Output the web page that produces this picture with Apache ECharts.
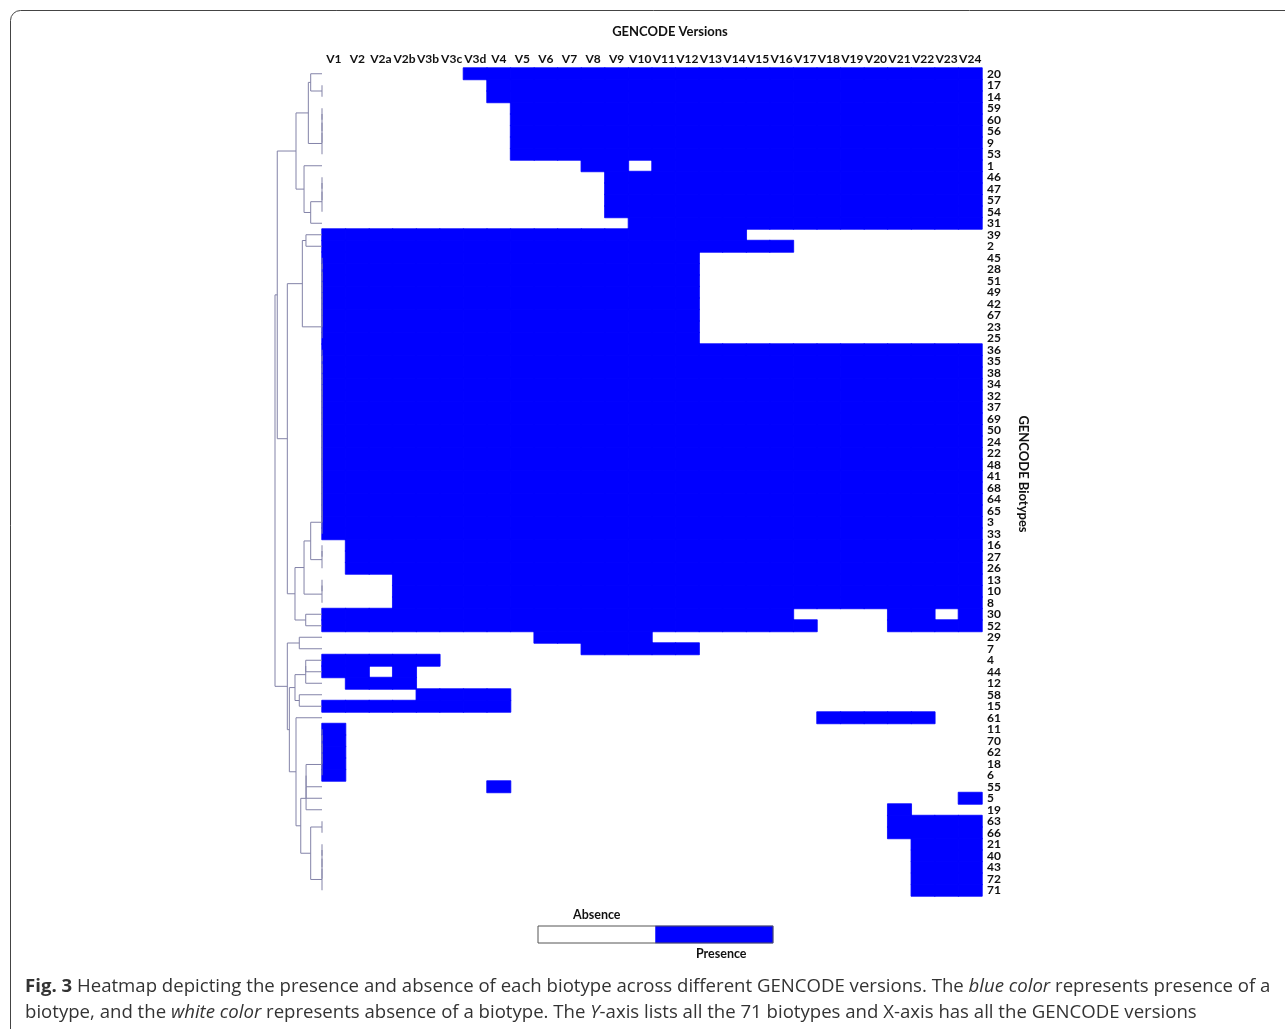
<!DOCTYPE html>
<html>
<head>
<meta charset="utf-8">
<title>GENCODE biotypes heatmap</title>
<script src="https://cdn.jsdelivr.net/npm/echarts@6/dist/echarts.min.js"></script>
<style>
  html, body { margin: 0; padding: 0; background: #fff; }
  #chart { width: 1285px; height: 1029px; }
</style>
</head>
<body>
<div id="chart"></div>
<script>
// columns (GENCODE versions)
const versions = ['V1', 'V2', 'V2a', 'V2b', 'V3b', 'V3c', 'V3d', 'V4', 'V5', 'V6', 'V7', 'V8', 'V9', 'V10',
  'V11', 'V12', 'V13', 'V14', 'V15', 'V16', 'V17', 'V18', 'V19', 'V20', 'V21', 'V22', 'V23', 'V24'];

// rows (biotype ids), top to bottom in dendrogram order
const biotypes = ['20', '17', '14', '59', '60', '56', '9', '53', '1', '46', '47', '57', '54', '31', '39', '2',
  '45', '28', '51', '49', '42', '67', '23', '25', '36', '35', '38', '34', '32', '37', '69', '50', '24', '22',
  '48', '41', '68', '64', '65', '3', '33', '16', '27', '26', '13', '10', '8', '30', '52', '29', '7', '4', '44',
  '12', '58', '15', '61', '11', '70', '62', '18', '6', '55', '5', '19', '63', '66', '21', '40', '43', '72', '71'];

// 1 = presence, 0 = absence, one string per row, one char per version (grouped by 4)
const presence = [
  '0000 0011 1111 1111 1111 1111 1111', // 20
  '0000 0001 1111 1111 1111 1111 1111', // 17
  '0000 0001 1111 1111 1111 1111 1111', // 14
  '0000 0000 1111 1111 1111 1111 1111', // 59
  '0000 0000 1111 1111 1111 1111 1111', // 60
  '0000 0000 1111 1111 1111 1111 1111', // 56
  '0000 0000 1111 1111 1111 1111 1111', // 9
  '0000 0000 1111 1111 1111 1111 1111', // 53
  '0000 0000 0001 1011 1111 1111 1111', // 1
  '0000 0000 0000 1111 1111 1111 1111', // 46
  '0000 0000 0000 1111 1111 1111 1111', // 47
  '0000 0000 0000 1111 1111 1111 1111', // 57
  '0000 0000 0000 1111 1111 1111 1111', // 54
  '0000 0000 0000 0111 1111 1111 1111', // 31
  '1111 1111 1111 1111 1100 0000 0000', // 39
  '1111 1111 1111 1111 1111 0000 0000', // 2
  '1111 1111 1111 1111 0000 0000 0000', // 45
  '1111 1111 1111 1111 0000 0000 0000', // 28
  '1111 1111 1111 1111 0000 0000 0000', // 51
  '1111 1111 1111 1111 0000 0000 0000', // 49
  '1111 1111 1111 1111 0000 0000 0000', // 42
  '1111 1111 1111 1111 0000 0000 0000', // 67
  '1111 1111 1111 1111 0000 0000 0000', // 23
  '1111 1111 1111 1111 0000 0000 0000', // 25
  '1111 1111 1111 1111 1111 1111 1111', // 36
  '1111 1111 1111 1111 1111 1111 1111', // 35
  '1111 1111 1111 1111 1111 1111 1111', // 38
  '1111 1111 1111 1111 1111 1111 1111', // 34
  '1111 1111 1111 1111 1111 1111 1111', // 32
  '1111 1111 1111 1111 1111 1111 1111', // 37
  '1111 1111 1111 1111 1111 1111 1111', // 69
  '1111 1111 1111 1111 1111 1111 1111', // 50
  '1111 1111 1111 1111 1111 1111 1111', // 24
  '1111 1111 1111 1111 1111 1111 1111', // 22
  '1111 1111 1111 1111 1111 1111 1111', // 48
  '1111 1111 1111 1111 1111 1111 1111', // 41
  '1111 1111 1111 1111 1111 1111 1111', // 68
  '1111 1111 1111 1111 1111 1111 1111', // 64
  '1111 1111 1111 1111 1111 1111 1111', // 65
  '1111 1111 1111 1111 1111 1111 1111', // 3
  '1111 1111 1111 1111 1111 1111 1111', // 33
  '0111 1111 1111 1111 1111 1111 1111', // 16
  '0111 1111 1111 1111 1111 1111 1111', // 27
  '0111 1111 1111 1111 1111 1111 1111', // 26
  '0001 1111 1111 1111 1111 1111 1111', // 13
  '0001 1111 1111 1111 1111 1111 1111', // 10
  '0001 1111 1111 1111 1111 1111 1111', // 8
  '1111 1111 1111 1111 1111 0000 1101', // 30
  '1111 1111 1111 1111 1111 1000 1111', // 52
  '0000 0000 0111 1100 0000 0000 0000', // 29
  '0000 0000 0001 1111 0000 0000 0000', // 7
  '1111 1000 0000 0000 0000 0000 0000', // 4
  '1101 0000 0000 0000 0000 0000 0000', // 44
  '0111 0000 0000 0000 0000 0000 0000', // 12
  '0000 1111 0000 0000 0000 0000 0000', // 58
  '1111 1111 0000 0000 0000 0000 0000', // 15
  '0000 0000 0000 0000 0000 0111 1100', // 61
  '1000 0000 0000 0000 0000 0000 0000', // 11
  '1000 0000 0000 0000 0000 0000 0000', // 70
  '1000 0000 0000 0000 0000 0000 0000', // 62
  '1000 0000 0000 0000 0000 0000 0000', // 18
  '1000 0000 0000 0000 0000 0000 0000', // 6
  '0000 0001 0000 0000 0000 0000 0000', // 55
  '0000 0000 0000 0000 0000 0000 0001', // 5
  '0000 0000 0000 0000 0000 0000 1000', // 19
  '0000 0000 0000 0000 0000 0000 1111', // 63
  '0000 0000 0000 0000 0000 0000 1111', // 66
  '0000 0000 0000 0000 0000 0000 0111', // 21
  '0000 0000 0000 0000 0000 0000 0111', // 40
  '0000 0000 0000 0000 0000 0000 0111', // 43
  '0000 0000 0000 0000 0000 0000 0111', // 72
  '0000 0000 0000 0000 0000 0000 0111'  // 71
];

// row clustering: [height, left, right], leaves are row indices.
// identical rows are joined one after another at height 0
const tie = (...rows) => rows.slice(1).reduce((acc, r) => [0, acc, r], rows[0]);
const dendrogram = [4.16,
  [3.96,
    [2.30,
      [1.21, [1.00, 0, tie(1, 2)], tie(3, 4, 5, 6, 7)],
      [1.59, 8, [1.00, tie(9, 10, 11, 12), 13]]
    ],
    [3.07,
      [1.74, [1.42, 14, 15], tie(16, 17, 18, 19, 20, 21, 22, 23)],
      [2.39,
        [1.59,
          [1.00, tie(24, 25, 26, 27, 28, 29, 30, 31, 32, 33, 34, 35, 36, 37, 38, 39, 40), tie(41, 42, 43)],
          tie(44, 45, 46)],
        [1.44, 47, 48]
      ]
    ]
  ],
  [3.07,
    [2.01, 49, 50],
    [2.89,
      [2.39, [1.44, [1.44, 51, 52], 53], [2.01, 54, 55]],
      [2.30, 56,
        [1.88,
          [1.41, [1.41, [1.41, tie(57, 58, 59, 60, 61), 62], 63], 64],
          [1.00, tie(65, 66), tie(67, 68, 69, 70, 71)]
        ]
      ]
    ]
  ]
];

const keyLabels = ['Absence', 'Presence'];
const keyValues = [0, 1];

const BLUE = '#0000ff';
const LABEL_FONT = 'Lato';

// heatmap cells: only the present ones are painted
const cells = [];
presence.forEach((row, r) => {
  row.replace(/\s/g, '').split('').forEach((c, v) => {
    if (c === '1') cells.push([v, r, 1]);
  });
});

// dendrogram links [childLeftH, yLeft, h, yRight, childRightH]
const links = [];
function layout(node) {
  if (typeof node === 'number') return { h: 0, y: node };
  const [h, a, b] = node;
  const l = layout(a);
  const r = layout(b);
  links.push([l.h, l.y, h, r.y, r.h]);
  return { h: h, y: (l.y + r.y) / 2 };
}
layout(dendrogram);

const chart = echarts.init(document.getElementById('chart'));

const option = {
  animation: false,
  backgroundColor: '#fff',
  textStyle: { fontFamily: LABEL_FONT },
  grid: [
    { left: 322, top: 68, width: 660, height: 828 },
    { left: 275, top: 68, width: 47, height: 828 },
    { left: 538, top: 926, width: 235, height: 17, show: true, z: 5,
      borderColor: '#555', borderWidth: 1, backgroundColor: 'transparent' }
  ],
  xAxis: [
    {
      gridIndex: 0, type: 'category', position: 'top', data: versions,
      axisLine: { show: false }, axisTick: { show: false }, splitLine: { show: false },
      axisLabel: { interval: 0, margin: 3, fontSize: 12, fontWeight: 'bold', color: '#111', fontFamily: LABEL_FONT }
    },
    { gridIndex: 1, type: 'value', inverse: true, min: 0, max: 4.16, show: false },
    {
      gridIndex: 2, type: 'category', position: 'top', data: keyLabels,
      axisLine: { show: false }, axisTick: { show: false },
      axisLabel: { interval: 0, margin: 5, fontSize: 12.5, fontWeight: 'bold', color: '#111',
        formatter: (v, i) => (i === 0 ? v : '') }
    },
    {
      gridIndex: 2, type: 'category', position: 'bottom', data: keyLabels,
      axisLine: { show: false }, axisTick: { show: false },
      axisLabel: { interval: 0, margin: 4, fontSize: 12.5, fontWeight: 'bold', color: '#111',
        padding: [0, 0, 0, 14], formatter: (v, i) => (i === 1 ? v : '') }
    }
  ],
  yAxis: [
    {
      gridIndex: 0, type: 'category', position: 'right', inverse: true, data: biotypes,
      axisLine: { show: false }, axisTick: { show: false }, splitLine: { show: false },
      axisLabel: { interval: 0, margin: 5, fontSize: 12, fontWeight: 'bold', color: '#111', fontFamily: LABEL_FONT }
    },
    { gridIndex: 1, type: 'value', inverse: true, min: -0.5, max: 71.5, show: false },
    { gridIndex: 2, type: 'category', data: [''], show: false }
  ],
  visualMap: {
    type: 'piecewise', show: false, seriesIndex: [0, 2], dimension: 2,
    pieces: [
      { value: 0, color: '#ffffff' },
      { value: 1, color: BLUE }
    ]
  },
  series: [
    {
      name: 'presence', type: 'heatmap', xAxisIndex: 0, yAxisIndex: 0,
      data: cells, itemStyle: { borderWidth: 0.8, borderColor: BLUE }, emphasis: { disabled: true }
    },
    {
      name: 'dendrogram', type: 'custom', xAxisIndex: 1, yAxisIndex: 1,
      data: links, encode: { x: [0, 2, 4], y: [1, 3] }, silent: true,
      renderItem: function (params, api) {
        const pts = [
          api.coord([api.value(0), api.value(1)]),
          api.coord([api.value(2), api.value(1)]),
          api.coord([api.value(2), api.value(3)]),
          api.coord([api.value(4), api.value(3)])
        ];
        return {
          type: 'polyline',
          shape: { points: pts },
          style: { stroke: '#8383a8', lineWidth: 1, fill: null }
        };
      }
    },
    {
      name: 'key', type: 'heatmap', xAxisIndex: 2, yAxisIndex: 2,
      data: keyValues.map((v, i) => [i, 0, v]), emphasis: { disabled: true }
    }
  ],
  graphic: [
    {
      type: 'rect', silent: true,
      shape: { x: 10.5, y: 10.5, width: 1320, height: 1060, r: 10 },
      style: { fill: null, stroke: '#444', lineWidth: 1 }
    },
    {
      type: 'text', x: 670, y: 32, silent: true,
      style: { text: 'GENCODE Versions', align: 'center', verticalAlign: 'middle',
        font: 'bold 13px Lato', fill: '#111' }
    },
    {
      type: 'text', x: 1023, y: 474, rotation: -Math.PI / 2, silent: true,
      style: { text: 'GENCODE Biotypes', align: 'center', verticalAlign: 'middle',
        font: 'bold 13px Lato', fill: '#111' }
    },
    {
      type: 'text', x: 25, y: 974, silent: true,
      style: {
        text: '{b|Fig. 3} Heatmap depicting the presence and absence of each biotype across different GENCODE versions. The {i|blue color} represents presence of a\n' +
          'biotype, and the {i|white color} represents absence of a biotype. The {i|Y}-axis lists all the 71 biotypes and X-axis has all the GENCODE versions',
        font: '18.6px "Open Sans"', fill: '#333', lineHeight: 26,
        rich: {
          b: { font: 'bold 18.6px "Open Sans"', fill: '#333', lineHeight: 26 },
          i: { font: 'italic 18.6px "Open Sans"', fill: '#333', lineHeight: 26 }
        }
      }
    }
  ]
};

chart.setOption(option);
</script>
</body>
</html>
